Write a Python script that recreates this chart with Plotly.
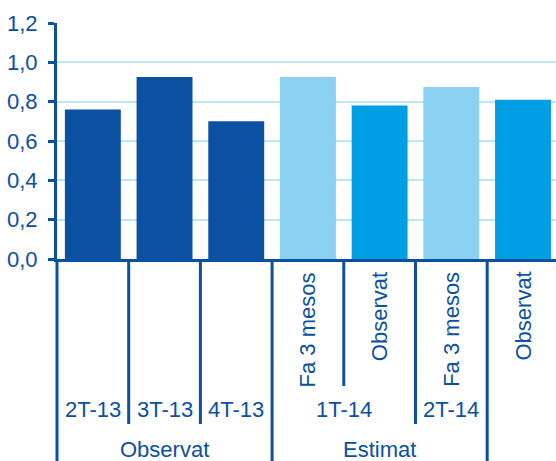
import plotly.graph_objects as go

# Data
categories = ["2T-13", "3T-13", "4T-13", "1T-14 Fa 3 mesos", "1T-14 Observat",
              "2T-14 Fa 3 mesos", "2T-14 Observat"]
values = [0.76, 0.925, 0.70, 0.925, 0.78, 0.875, 0.81]
bar_colors = ["#0B50A1", "#0B50A1", "#0B50A1", "#8BD1F1", "#009FE3", "#8BD1F1", "#009FE3"]
rotated_labels = [(3, "Fa 3 mesos"), (4, "Observat"), (5, "Fa 3 mesos"), (6, "Observat")]
period_labels = [(0, "2T-13"), (1, "3T-13"), (2, "4T-13"), (3.5, "1T-14"), (5, "2T-14")]
group_labels = [(1, "Observat"), (4, "Estimat")]
y_ticks = [0, 0.2, 0.4, 0.6, 0.8, 1.0, 1.2]

DARK = "#0B50A1"
FONT = "Liberation Sans, Arial, sans-serif"
XMIN, XMAX = -0.5, 6.46
W, H = 556, 461
ML, MR, MT, MB = 57, 0, 23, 202
PH = H - MT - MB
FS = 22

def xp(v):
    return (v - XMIN) / (XMAX - XMIN)

def yp(px):
    return (H - MB - px) / PH

fig = go.Figure(go.Bar(x=categories, y=values, marker=dict(color=bar_colors, line=dict(width=0)),
                       width=0.78))

shapes = []
# separator lines below axis: (boundary position, bottom pixel)
separators = [(-0.5, 470), (0.5, 424), (1.5, 424), (2.5, 470), (3.5, 386), (4.5, 424), (5.5, 470)]
for xb, bottom in separators:
    shapes.append(dict(type="line", xref="paper", yref="paper", x0=xp(xb), x1=xp(xb),
                       y0=0, y1=yp(bottom), line=dict(color=DARK, width=3)))

annotations = []
for xi, t in rotated_labels:
    annotations.append(dict(x=xi, y=yp(270), xref="x", yref="paper", text=t, showarrow=False,
                            textangle=-90, xanchor="center", yanchor="top",
                            font=dict(family=FONT, size=FS, color=DARK)))
for xi, t in period_labels:
    annotations.append(dict(x=xi, y=yp(410), xref="x", yref="paper", text=t, showarrow=False,
                            xanchor="center", yanchor="middle",
                            font=dict(family=FONT, size=FS, color=DARK)))
for xi, t in group_labels:
    annotations.append(dict(x=xi, y=yp(449), xref="x", yref="paper", text=t, showarrow=False,
                            xanchor="center", yanchor="middle",
                            font=dict(family=FONT, size=FS, color=DARK)))

fig.update_layout(
    width=W, height=H,
    margin=dict(l=ML, r=MR, t=MT, b=MB, pad=0),
    paper_bgcolor="white", plot_bgcolor="white",
    separators=", ",
    showlegend=False,
    shapes=shapes, annotations=annotations,
    xaxis=dict(type="category", range=[XMIN, XMAX], showticklabels=False, showgrid=False,
               showline=True, linecolor=DARK, linewidth=3, ticks="", zeroline=False,
               fixedrange=True),
    yaxis=dict(range=[0, 1.2], tickvals=y_ticks, tickformat=".1f", showgrid=True,
               gridcolor="#BDE7F8", gridwidth=2, zeroline=False, showline=True,
               linecolor=DARK, linewidth=3, ticks="outside", ticklen=6, tickwidth=3,
               tickcolor=DARK, ticklabelstandoff=6,
               tickfont=dict(family=FONT, size=FS, color=DARK)),
)

fig.write_html("out.html")
